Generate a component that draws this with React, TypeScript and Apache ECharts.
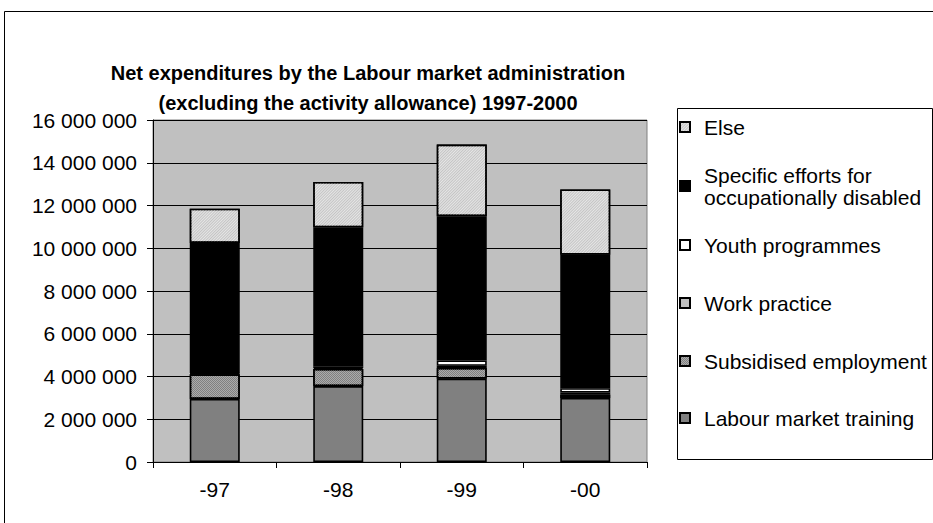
import React, { useEffect, useRef } from "react";
import * as echarts from "echarts";

// Net expenditures by year, stacked by programme
const categories = ["-97", "-98", "-99", "-00"];
const labourMarketTraining = [2950000, 3550000, 3900000, 3000000];
const subsidisedEmployment = [1150000, 800000, 500000, 150000];
const workPractice = [30000, 50000, 100000, 100000];
const youthProgrammes = [30000, 80000, 250000, 200000];
const specificEfforts = [6090000, 6500000, 6750000, 6250000];
const elseValues = [1600000, 2120000, 3350000, 3050000];

const yTicks = { min: 0, max: 16000000, interval: 2000000 };

const FONT = '"Liberation Sans", Arial, sans-serif';

const fmt = (v: number) => String(v).replace(/\B(?=(\d{3})+(?!\d))/g, " ");

export default function App() {
  const ref = useRef<HTMLDivElement>(null);

  useEffect(() => {
    if (!ref.current) return;
    const chart = echarts.init(ref.current, null, { renderer: "svg" });

    const border = { borderColor: "#000", borderWidth: 1.6 };
    const bar = (name: string, data: number[], itemStyle: any) => ({
      name,
      type: "bar",
      stack: "total",
      barWidth: 50,
      data,
      itemStyle: { ...border, ...itemStyle },
      emphasis: { disabled: true },
    });

    const legendText = {
      fontFamily: FONT,
      fontSize: 21,
      lineHeight: 22,
      color: "#000",
      padding: [0, 0, 0, 9],
    };
    const legendItem = (name: string, top: number, textStyle: any = legendText) => ({
      data: [{ name, icon: "rect" }],
      left: 679,
      top,
      padding: 0,
      itemWidth: 10,
      itemHeight: 10,
      icon: "rect",
      selectedMode: false,
      textStyle,
    });

    const specificName = "Specific efforts for\noccupationally disabled";

    chart.setOption({
      animation: false,
      backgroundColor: "#fff",
      textStyle: { fontFamily: FONT },
      graphic: [
        {
          type: "rect",
          shape: { x: 4.5, y: 11.5, width: 1000, height: 1000 },
          style: { fill: "none", stroke: "#000", lineWidth: 1 },
          silent: true,
        },
        {
          type: "rect",
          shape: { x: 677.5, y: 108.5, width: 255, height: 351 },
          style: { fill: "#fff", stroke: "#000", lineWidth: 1 },
          silent: true,
          z: -1,
        },
        {
          type: "text",
          x: 368,
          y: 88,
          style: {
            text: "Net expenditures by the Labour market administration\n(excluding the activity allowance) 1997-2000",
            font: `bold 20px ${FONT}`,
            lineHeight: 30,
            textAlign: "center",
            textVerticalAlign: "middle",
            fill: "#000",
          },
          silent: true,
        },
      ],
      legend: [
        legendItem("Else", 116),
        legendItem(specificName, 153, { ...legendText, padding: [22, 0, 0, 9] }),
        legendItem("Youth programmes", 234),
        legendItem("Work practice", 292),
        legendItem("Subsidised employment", 350),
        legendItem("Labour market training", 407),
      ],
      grid: {
        left: 153,
        right: 286,
        top: 120,
        bottom: 61,
        show: true,
        backgroundColor: "#c0c0c0",
        borderColor: "#808080",
        borderWidth: 1,
      },
      xAxis: {
        type: "category",
        data: categories,
        axisLine: { lineStyle: { color: "#000", width: 1 } },
        axisTick: { show: true, length: 6, lineStyle: { color: "#000" } },
        axisLabel: { fontFamily: FONT, fontSize: 21, color: "#000", margin: 17 },
      },
      yAxis: {
        type: "value",
        min: yTicks.min,
        max: yTicks.max,
        interval: yTicks.interval,
        axisLine: { show: true, lineStyle: { color: "#000", width: 1 } },
        axisTick: { show: true, length: 6, lineStyle: { color: "#000" } },
        splitLine: { lineStyle: { color: "#000", width: 1 } },
        axisLabel: {
          fontFamily: FONT,
          fontSize: 21,
          color: "#000",
          margin: 16,
          formatter: (v: number) => fmt(v),
        },
      },
      series: [
        bar("Labour market training", labourMarketTraining, { color: "#808080" }),
        bar("Subsidised employment", subsidisedEmployment, {
          color: "#808080",
          decal: {
            symbol: "rect",
            symbolSize: 1,
            color: "#ababab",
            dashArrayX: [[1, 1], [0, 1, 1, 0]],
            dashArrayY: [1, 0],
          },
        }),
        bar("Work practice", workPractice, { color: "#c0c0c0" }),
        bar("Youth programmes", youthProgrammes, { color: "#ffffff" }),
        bar(specificName, specificEfforts, { color: "#000000" }),
        bar("Else", elseValues, {
          color: "#c4c4c4",
          decal: {
            symbol: "rect",
            symbolSize: 1,
            color: "#e6e6e6",
            dashArrayX: [1, 0],
            dashArrayY: [1, 1],
            rotation: -Math.PI / 4,
          },
        }),
      ],
    });

    return () => chart.dispose();
  }, []);

  return (
    <div
      ref={ref}
      style={{ position: "absolute", left: 0, top: 0, width: 933, height: 523 }}
    />
  );
}
